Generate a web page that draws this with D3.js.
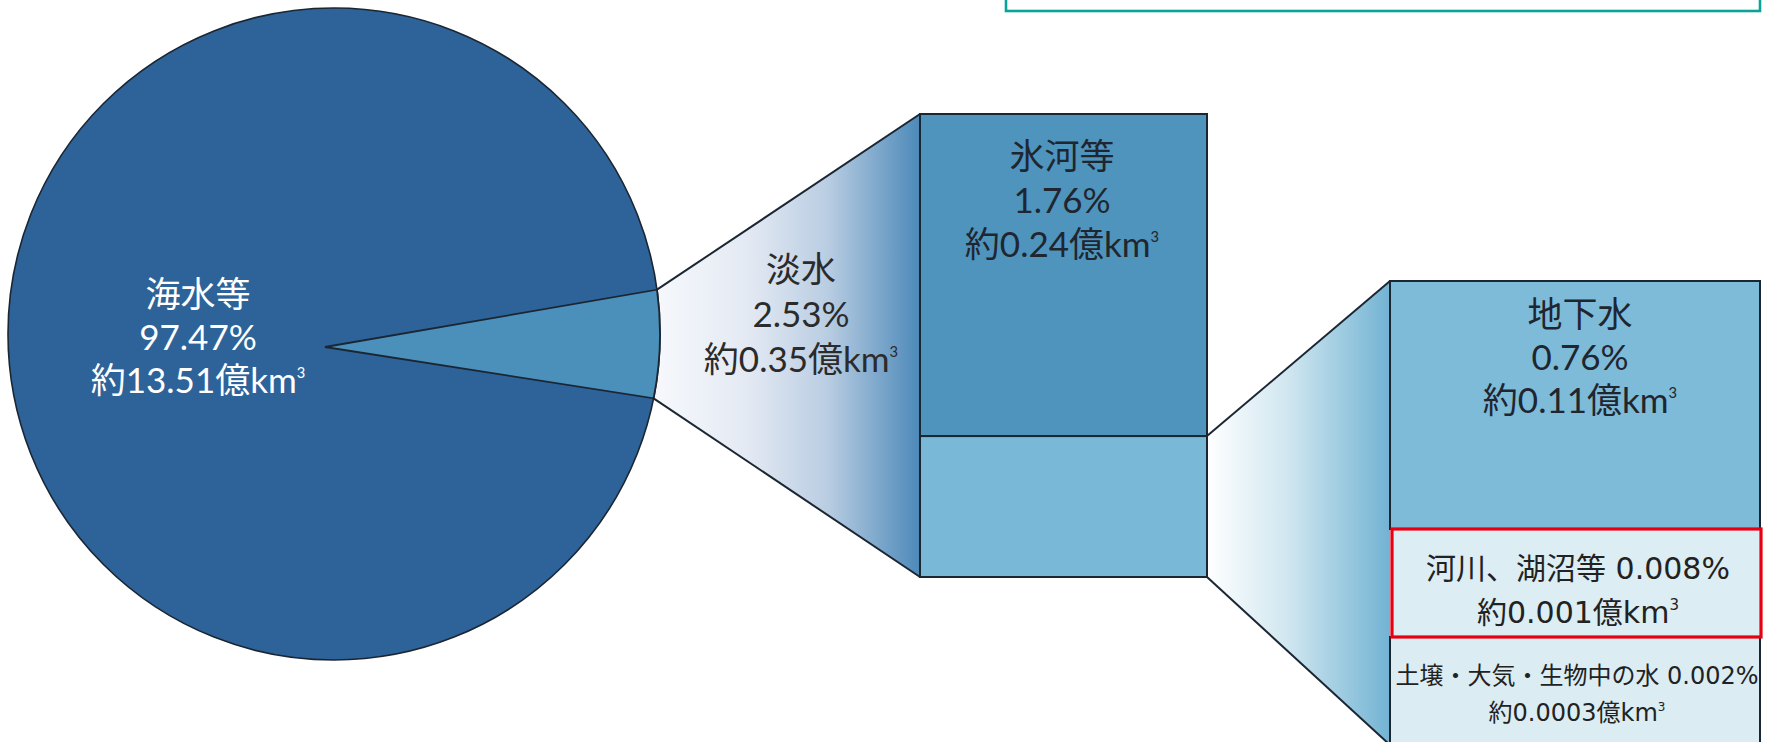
<!DOCTYPE html>
<html>
<head>
<meta charset="utf-8">
<script src="https://cdn.jsdelivr.net/npm/d3@7"></script>
<style>
  html, body { margin: 0; padding: 0; background: #ffffff; overflow: hidden; }
  svg { display: block; }
</style>
</head>
<body>
<svg id="chart" width="1767" height="742"></svg>
<script>
// Earth's water inventory: share of the total (%) and volume (億km³)
const categories = ["海水等", "淡水", "氷河等", "地下水", "河川、湖沼等", "土壌・大気・生物中の水"];
const sharePct   = [97.47, 2.53, 1.76, 0.76, 0.008, 0.002];
const volumes    = [13.51, 0.35, 0.24, 0.11, 0.001, 0.0003];

const pctText = i => sharePct[i] + "%";
const volText = i => "約" + volumes[i] + "億km";

const svg = d3.select("#chart");
const FONT = "Lato, 'Noto Sans CJK JP', sans-serif";
const FONT_SMALL = "'DejaVu Sans', 'Noto Sans CJK JP', sans-serif";
const EDGE = "#1b2633";

// ---- layout ----
const pie = { cx: 334, cy: 334, r: 326, ax: 325, ay: 347 };
const glacierCol = { x0: 920, x1: 1207, y0: 114, y1: 577 };
const detailCol  = { x0: 1390, x1: 1760, y0: 281, split: 529, y1: 745 };

// angular scale for the pie; the fresh-water wedge is magnified for legibility
const angle = d3.scaleLinear().domain([0, 100]).range([0, 2 * Math.PI]);
const WEDGE_ZOOM = 2.05;
const wedgeHalf = angle(sharePct[1]) * WEDGE_ZOOM / 2;
const wedgeTilt = -0.008;

// point where a ray from the wedge apex meets the pie's rim
function rimPoint(theta) {
  const dx = Math.cos(theta), dy = Math.sin(theta);
  const ox = pie.ax - pie.cx, oy = pie.ay - pie.cy;
  const b = ox * dx + oy * dy;
  const c = ox * ox + oy * oy - pie.r * pie.r;
  const t = -b + Math.sqrt(b * b - c);
  return [pie.ax + t * dx, pie.ay + t * dy];
}
const pTop = rimPoint(wedgeTilt - wedgeHalf);
const pBot = rimPoint(wedgeTilt + wedgeHalf);

// vertical scale of the fresh-water column (to scale)
const yGlacier = d3.scaleLinear().domain([0, sharePct[1]]).range([glacierCol.y0, glacierCol.y1]);
const yGlacierSplit = yGlacier(sharePct[2]);

// detail column: ground water on top, the two tiny stores as equal bands below
const yDetailBand = d3.scaleBand()
  .domain(categories.slice(4))
  .range([detailCol.split, detailCol.y1]);

// ---- gradients for the connector funnels ----
const defs = svg.append("defs");
function hGradient(id, x0, x1, stops) {
  const g = defs.append("linearGradient")
    .attr("id", id).attr("gradientUnits", "userSpaceOnUse")
    .attr("x1", x0).attr("x2", x1).attr("y1", 0).attr("y2", 0);
  stops.forEach(([o, c]) => g.append("stop").attr("offset", o).attr("stop-color", c));
}
hGradient("funnelA", pTop[0], glacierCol.x0, [[0, "#f6f8fc"], [0.35, "#e3e9f3"], [0.65, "#b9cde2"], [1, "#4c89b9"]]);
hGradient("funnelB", glacierCol.x1, detailCol.x0, [[0, "#ffffff"], [0.45, "#cfe6f0"], [1, "#72b3d3"]]);

const line = d3.line();

// funnel from the wedge to the fresh-water column
svg.append("path")
  .attr("d", line([pTop, [glacierCol.x0, glacierCol.y0], [glacierCol.x0, glacierCol.y1], pBot]) + "Z")
  .attr("fill", "url(#funnelA)");

// funnel from the "other fresh water" block to the detail column
svg.append("path")
  .attr("d", line([[glacierCol.x1, yGlacierSplit], [detailCol.x0, detailCol.y0],
                   [detailCol.x0, detailCol.y1], [glacierCol.x1, glacierCol.y1]]) + "Z")
  .attr("fill", "url(#funnelB)");

// ---- pie ----
svg.append("circle")
  .attr("cx", pie.cx).attr("cy", pie.cy).attr("r", pie.r)
  .attr("fill", "#2d6399").attr("stroke", EDGE).attr("stroke-width", 1.6);

const wedge = d3.path();
wedge.moveTo(pie.ax, pie.ay);
wedge.lineTo(pTop[0], pTop[1]);
wedge.arc(pie.cx, pie.cy, pie.r,
          Math.atan2(pTop[1] - pie.cy, pTop[0] - pie.cx),
          Math.atan2(pBot[1] - pie.cy, pBot[0] - pie.cx), false);
wedge.closePath();
svg.append("path").attr("d", wedge.toString())
  .attr("fill", "#4b8fbb").attr("stroke", EDGE).attr("stroke-width", 1.8)
  .attr("stroke-linejoin", "miter");

// connector lines
svg.append("path").attr("d", line([pTop, [glacierCol.x0, glacierCol.y0]]))
  .attr("fill", "none").attr("stroke", EDGE).attr("stroke-width", 2);
svg.append("path").attr("d", line([pBot, [glacierCol.x0, glacierCol.y1]]))
  .attr("fill", "none").attr("stroke", EDGE).attr("stroke-width", 2);
svg.append("path").attr("d", line([[glacierCol.x1, yGlacierSplit], [detailCol.x0, detailCol.y0]]))
  .attr("fill", "none").attr("stroke", EDGE).attr("stroke-width", 2);
svg.append("path").attr("d", line([[glacierCol.x1, glacierCol.y1], [detailCol.x0, detailCol.y1]]))
  .attr("fill", "none").attr("stroke", EDGE).attr("stroke-width", 2);

// ---- fresh-water column ----
svg.append("rect")
  .attr("x", glacierCol.x0).attr("y", yGlacier(0))
  .attr("width", glacierCol.x1 - glacierCol.x0).attr("height", yGlacierSplit - yGlacier(0))
  .attr("fill", "#4f94bd").attr("stroke", EDGE).attr("stroke-width", 2);
svg.append("rect")
  .attr("x", glacierCol.x0).attr("y", yGlacierSplit)
  .attr("width", glacierCol.x1 - glacierCol.x0).attr("height", yGlacier(sharePct[1]) - yGlacierSplit)
  .attr("fill", "#79b9d7").attr("stroke", EDGE).attr("stroke-width", 2);

// ---- detail column ----
const dW = detailCol.x1 - detailCol.x0;
svg.append("rect")
  .attr("x", detailCol.x0).attr("y", detailCol.y0)
  .attr("width", dW).attr("height", detailCol.split - detailCol.y0)
  .attr("fill", "#7dbbd8").attr("stroke", EDGE).attr("stroke-width", 2);
svg.append("rect")
  .attr("x", detailCol.x0).attr("y", yDetailBand(categories[5]))
  .attr("width", dW).attr("height", yDetailBand.bandwidth() + 4)
  .attr("fill", "#dbedf3").attr("stroke", EDGE).attr("stroke-width", 2);
svg.append("rect")
  .attr("x", detailCol.x0 + 2).attr("y", yDetailBand(categories[4]))
  .attr("width", dW - 1).attr("height", yDetailBand.bandwidth())
  .attr("fill", "#dcedf3").attr("stroke", "#e60012").attr("stroke-width", 3.2);

// top frame (partially off the page)
svg.append("rect")
  .attr("x", 1006).attr("y", -40).attr("width", 754).attr("height", 51)
  .attr("fill", "none").attr("stroke", "#0aa39b").attr("stroke-width", 2.6);

// ---- labels: one multi-line text element per block ----
function multiLine(x, centers, lines, size, family, color) {
  const t = svg.append("text")
    .attr("font-family", family).attr("font-size", size).attr("fill", color)
    .attr("text-anchor", "middle").attr("dominant-baseline", "central");
  lines.forEach((ln, k) => {
    const row = t.append("tspan").attr("x", x).attr("y", centers[k])
      .attr("dominant-baseline", "central");
    if (ln.vol !== undefined) {
      row.append("tspan").text(volText(ln.vol));
      row.append("tspan").text("3")
        .attr("font-size", size * ln.sup).attr("baseline-shift", "50%");
    } else {
      row.text(ln);
    }
  });
  return t;
}

function blockLabel(i, x, yFirst, gap, size, color) {
  multiLine(x, [yFirst, yFirst + gap, yFirst + 2 * gap],
            [categories[i], pctText(i), { vol: i, sup: 0.42 }], size, FONT, color);
}

blockLabel(0, 198, 293, 43, 35, "#ffffff");
blockLabel(1, 801, 268, 45, 35, "#2b2b2b");
blockLabel(2, 1062, 155, 44, 35, "#1f2630");
blockLabel(3, 1580, 313, 43, 35, "#1f2630");

// tiny stores: one line for name + share, one for volume
multiLine(1578, [568, 612], [categories[4] + " " + pctText(4), { vol: 4, sup: 0.5 }], 30, FONT_SMALL, "#222");
multiLine(1577, [676, 713], [categories[5] + " " + pctText(5), { vol: 5, sup: 0.5 }], 24, FONT_SMALL, "#222");
</script>
</body>
</html>
